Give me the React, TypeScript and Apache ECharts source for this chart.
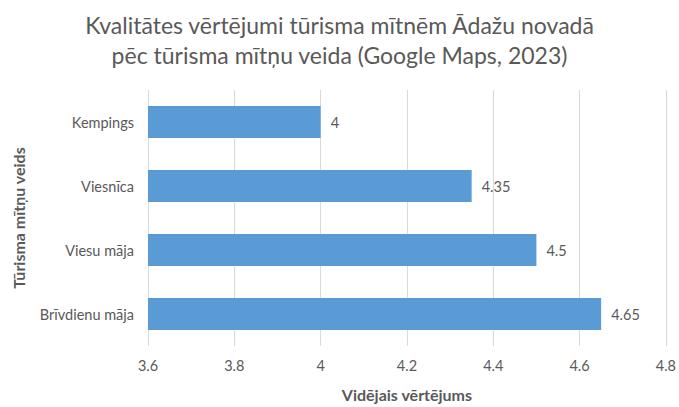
import React, { useEffect, useRef } from "react";
import * as echarts from "echarts";

const titleLines = [
  "Kvalitātes vērtējumi tūrisma mītnēm Ādažu novadā",
  "pēc tūrisma mītņu veida (Google Maps, 2023)",
];
const categories = ["Brīvdienu māja", "Viesu māja", "Viesnīca", "Kempings"];
const values = [4.65, 4.5, 4.35, 4];
const xAxisName = "Vidējais vērtējums";
const yAxisName = "Tūrisma mītņu veids";
const xMin = 3.6;
const xMax = 4.8;
const xInterval = 0.2;

const FONT = "Lato, 'Open Sans', sans-serif";
const TEXT = "#595959";

export default function App() {
  const ref = useRef<HTMLDivElement>(null);
  useEffect(() => {
    if (!ref.current) return;
    const chart = echarts.init(ref.current, undefined, { renderer: "svg" });
    chart.setOption({
      animation: false,
      backgroundColor: "#ffffff",
      textStyle: { fontFamily: FONT },
      title: {
        text: titleLines.join("\n"),
        left: "center",
        top: 5,
        textStyle: {
          fontFamily: FONT,
          fontSize: 23,
          fontWeight: "normal",
          color: TEXT,
          lineHeight: 30,
        },
      },
      grid: { left: 148, right: 12, top: 90, bottom: 57, containLabel: false },
      xAxis: {
        type: "value",
        min: xMin,
        max: xMax,
        interval: xInterval,
        name: xAxisName,
        nameLocation: "middle",
        nameGap: 40,
        nameTextStyle: { fontFamily: FONT, fontSize: 16, fontWeight: "bold", color: TEXT },
        axisLine: { show: false },
        axisTick: { show: false },
        axisLabel: {
          fontFamily: FONT,
          fontSize: 14.5,
          color: TEXT,
          margin: 12,
          formatter: (v: number) => String(Math.round(v * 10) / 10),
        },
        splitLine: { show: true, lineStyle: { color: "#d9d9d9", width: 1 } },
      },
      yAxis: {
        type: "category",
        data: categories,
        name: yAxisName,
        nameLocation: "middle",
        nameGap: 122,
        nameRotate: 90,
        nameTextStyle: { fontFamily: FONT, fontSize: 16, fontWeight: "bold", color: TEXT },
        axisLine: { show: false },
        axisTick: { show: false },
        axisLabel: { fontFamily: FONT, fontSize: 14.5, color: TEXT, margin: 14 },
      },
      series: [
        {
          type: "bar",
          data: values,
          barWidth: "50%",
          itemStyle: { color: "#5b9bd5" },
          label: {
            show: true,
            position: "right",
            distance: 10,
            fontFamily: FONT,
            fontSize: 14.5,
            color: TEXT,
          },
        },
      ],
    });
    return () => chart.dispose();
  }, []);
  return <div ref={ref} style={{ width: 679, height: 407, position: "absolute", left: 0, top: 0 }} />;
}
